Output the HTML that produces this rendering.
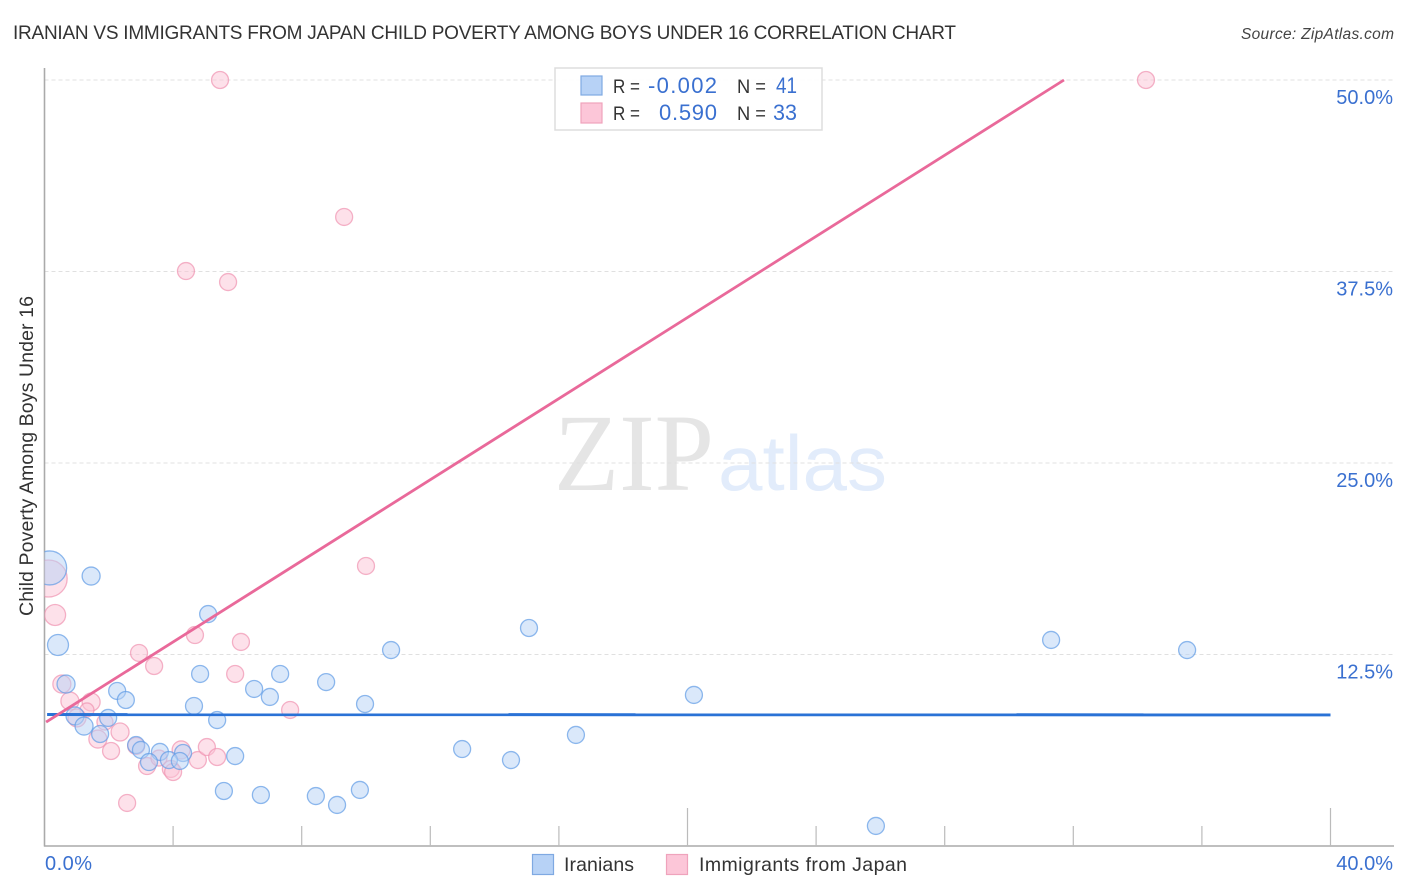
<!DOCTYPE html>
<html lang="en">
<head>
<meta charset="utf-8">
<title>Iranian vs Immigrants from Japan Child Poverty Correlation Chart</title>
<style>
html,body{margin:0;padding:0;background:#fff}
svg{display:block}
text{font-family:"Liberation Sans",sans-serif}
</style>
</head>
<body>
<svg id="chart" width="1406" height="892" viewBox="0 0 1406 892" xmlns="http://www.w3.org/2000/svg">
<defs><clipPath id="plot-clip"><rect x="44.5" y="60" width="1350" height="786"/></clipPath></defs>
<rect x="0" y="0" width="1406" height="892" fill="#fff"/>
<text x="13" y="39" font-size="19" fill="#333" textLength="943" lengthAdjust="spacing">IRANIAN VS IMMIGRANTS FROM JAPAN CHILD POVERTY AMONG BOYS UNDER 16 CORRELATION CHART</text>
<text x="1241" y="39" font-size="15.5" font-style="italic" fill="#444" textLength="153" lengthAdjust="spacing">Source: ZipAtlas.com</text>
<text x="554" y="490" font-size="110" fill="#e5e5e5" style="font-family:'Liberation Serif',serif" textLength="160" lengthAdjust="spacingAndGlyphs">ZIP</text>
<text x="718" y="490" font-size="78" fill="#e2ecfb" textLength="169" lengthAdjust="spacingAndGlyphs">atlas</text>
<g id="grid"></g>
<g id="axes"></g>
<g id="points" clip-path="url(#plot-clip)"></g>
<g id="trends"></g>
<g id="labels"></g>
<text transform="translate(33,456) rotate(-90)" font-size="19.5" fill="#333" text-anchor="middle" textLength="320" lengthAdjust="spacing">Child Poverty Among Boys Under 16</text>
<g>
<rect x="555" y="68" width="267" height="62" fill="#fff" fill-opacity="0.9" stroke="#ddd" stroke-width="1.5"/>
<rect x="581" y="76" width="21" height="19" fill="#b7d2f6" stroke="#7fa9e2" stroke-width="1.2"/>
<rect x="581" y="103" width="21" height="20" fill="#fcc6d8" stroke="#efa3bc" stroke-width="1.2"/>
<text x="613" y="93" font-size="19" fill="#333" textLength="27" lengthAdjust="spacingAndGlyphs">R =</text>
<text x="648" y="93" font-size="22" fill="#3a70d0" textLength="69" lengthAdjust="spacing">-0.002</text>
<text x="737" y="93" font-size="19" fill="#333" textLength="29" lengthAdjust="spacingAndGlyphs">N =</text>
<text x="776" y="93" font-size="22" fill="#3a70d0" textLength="21" lengthAdjust="spacingAndGlyphs">41</text>
<text x="613" y="120" font-size="19" fill="#333" textLength="27" lengthAdjust="spacingAndGlyphs">R =</text>
<text x="659" y="120" font-size="22" fill="#3a70d0" textLength="58" lengthAdjust="spacing">0.590</text>
<text x="737" y="120" font-size="19" fill="#333" textLength="29" lengthAdjust="spacingAndGlyphs">N =</text>
<text x="773" y="120" font-size="22" fill="#3a70d0" textLength="24" lengthAdjust="spacingAndGlyphs">33</text>
</g>
<g>
<rect x="532.5" y="854.5" width="21" height="20" fill="#b7d2f6" stroke="#7fa9e2" stroke-width="1.2"/>
<text x="564" y="871" font-size="19.5" fill="#333" textLength="70" lengthAdjust="spacing">Iranians</text>
<text x="699" y="871" font-size="19.5" fill="#333" textLength="208" lengthAdjust="spacing">Immigrants from Japan</text>
<rect x="666.5" y="854.5" width="21" height="20" fill="#fcc6d8" stroke="#efa3bc" stroke-width="1.2"/>
</g>
</svg>
<script>
var iranianX = [0.16,1.45,0.42,0.67,5.09,2.26,2.53,4.84,7.33,6.52,7.01,8.76,9.97,4.65,5.37,0.95,1.98,1.23,1.73,2.85,3.00,3.59,4.31,3.25,3.87,4.21,5.93,5.58,6.73,8.44,9.10,9.81,10.78,15.07,12.99,14.51,16.53,20.20,25.86,31.31,35.54];
var iranianY = [18.15,17.62,13.12,10.57,15.14,10.12,9.53,11.23,11.23,10.25,9.73,10.70,9.27,9.14,8.22,8.49,8.36,7.83,7.31,6.59,6.27,6.14,6.07,5.48,5.61,5.55,5.87,3.59,3.33,3.26,2.68,3.66,12.79,14.23,6.33,5.61,7.25,9.86,1.31,13.45,12.79];
var iranianWeight = [289,81,110,81,72,72,72,72,72,72,72,72,72,72,72,81,72,81,72,72,72,72,72,72,72,72,72,72,72,72,72,72,72,72,72,72,72,72,72,72,72];
var japanX = [0.13,0.33,0.54,0.79,1.45,1.32,1.01,1.88,1.66,2.35,2.07,2.85,3.19,3.56,4.25,3.93,4.00,4.77,5.05,5.37,2.94,3.41,4.68,6.11,5.93,7.64,10.00,9.32,4.40,5.71,5.46,34.26,2.57];
var japanY = [17.46,15.08,10.57,9.46,9.40,8.88,8.36,8.09,6.98,7.44,6.20,6.53,5.22,5.74,6.27,5.03,4.83,5.61,6.46,5.81,12.60,11.75,13.77,13.32,11.23,8.88,18.28,41.06,37.53,36.81,50.00,50.00,2.81];
var japanWeight = [342,110,81,81,81,49,81,64,81,81,72,72,72,64,81,72,72,72,72,72,72,72,72,72,72,72,72,72,72,72,72,72,72];
var iranianTrendX = [0.05,40.0];
var iranianTrendY = [8.58,8.56];
var japanTrendX = [0.05,31.71];
var japanTrendY = [8.09,50.0];
var yTickValues = [50,37.5,25,12.5];
var yTickLabels = ['50.0%','37.5%','25.0%','12.5%'];
var xTickValues = [0,4,8,12,16,20,24,28,32,36,40];
var xMajorTicks = [0,20,40];
var xEdgeLabels = ['0.0%','40.0%'];

var NS = 'http://www.w3.org/2000/svg';
function xScale(v){ return 44.5 + v * 32.15; }
function yScale(v){ return 846 - v * 15.32; }
function rScale(w){ return Math.sqrt(w); }
function make(tag, attrs, parent){
  var el = document.createElementNS(NS, tag);
  for (var k in attrs) el.setAttribute(k, attrs[k]);
  document.getElementById(parent).appendChild(el);
  return el;
}

yTickValues.forEach(function(v, i){
  var line = make('line', {x1:44.5, x2:1394, y1:yScale(v), y2:yScale(v), stroke:'#e0e0e0', 'stroke-width':1, 'stroke-dasharray':'4 3'}, 'grid');
  
  
  var t = make('text', {x:1393, y:yScale(v) + 24, 'font-size':20, fill:'#3a70d0', 'text-anchor':'end'}, 'labels');
  t.textContent = yTickLabels[i];
  
  
});

var yAxis = make('line', {x1:44.5, x2:44.5, y1:68, y2:846.5, stroke:'#aaa', 'stroke-width':1.6}, 'axes');


var xAxis = make('line', {x1:44, x2:1394, y1:846, y2:846, stroke:'#aaa', 'stroke-width':1.4}, 'axes');


xTickValues.forEach(function(v){
  if (v === 0) return;
  var major = xMajorTicks.indexOf(v) >= 0;
  var tick = make('line', {x1:xScale(v), x2:xScale(v), y1:major ? 808 : 826, y2:846, stroke:'#bbb', 'stroke-width':1.2}, 'axes');
  
  
});

function drawSeries(xs, ys, ws, fill, stroke){
  xs.forEach(function(x, i){
    var c = make('circle', {cx:xScale(x), cy:yScale(ys[i]), r:rScale(ws[i]), fill:fill, 'fill-opacity':0.5, stroke:stroke, 'stroke-opacity':0.7, 'stroke-width':1.3}, 'points');
    
    
  });
}
drawSeries(japanX, japanY, japanWeight, '#fbc4d6', '#ef93b1');
drawSeries(iranianX, iranianY, iranianWeight, '#b6d2f6', '#5f9be6');

var blueTrend = make('line', {x1:xScale(iranianTrendX[0]) + 1, x2:xScale(iranianTrendX[1]), y1:yScale(iranianTrendY[0]), y2:yScale(iranianTrendY[1]), stroke:'#2a72d6', 'stroke-width':3}, 'trends');


var pinkTrend = make('line', {x1:xScale(japanTrendX[0]), x2:xScale(japanTrendX[1]), y1:yScale(japanTrendY[0]), y2:yScale(japanTrendY[1]), stroke:'#e9699a', 'stroke-width':2.8}, 'trends');



var xMin = make('text', {x:45, y:870, 'font-size':20, fill:'#3a70d0', textLength:47, lengthAdjust:'spacing'}, 'labels');
xMin.textContent = xEdgeLabels[0];


var xMax = make('text', {x:1393, y:870, 'font-size':20, fill:'#3a70d0', 'text-anchor':'end'}, 'labels');
xMax.textContent = xEdgeLabels[1];


</script>
</body>
</html>
